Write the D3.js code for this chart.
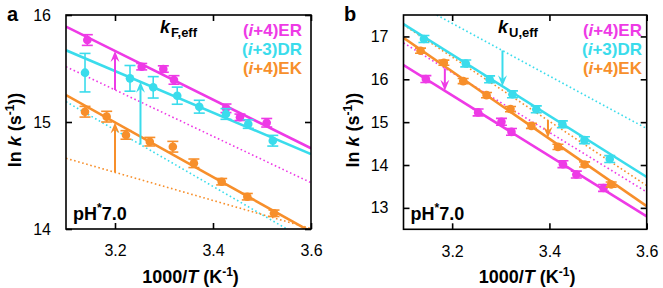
<!DOCTYPE html>
<html><head><meta charset="utf-8">
<script src="https://cdn.jsdelivr.net/npm/d3@7"></script>
<style>body{margin:0;background:#fff}svg{display:block}text{font-family:"Liberation Sans",Arial,Helvetica,sans-serif}</style>
</head><body><svg id="c" width="663" height="288"></svg>
<script>
// ---------- data ----------
const seriesNames = ["ER","DR","EK"];
const seriesColors = ["#ee3ae6","#3adcec","#f78f2b"];
const legendPre = ["(","(","("];
const legendMid = ["i","i","i"];
const legendPost = ["+4)ER","+3)DR","+4)EK"];
const xTicks = [3.2, 3.4, 3.6];
const xTickLabels = ["3.2","3.4","3.6"];
const aYTicks = [14, 15, 16];
const bYTicks = [13, 14, 15, 16, 17];
const fitX = [3.1, 3.6];

// panel a : kF,eff
const aER_x = [3.1435,3.2545,3.2986,3.3204,3.4265,3.455,3.5096];
const aER_y = [15.766,15.517,15.495,15.393,15.128,15.044,14.993];
const aER_e = [0.05,0.03,0.03,0.04,0.04,0.03,0.04];
const aDR_x = [3.1388,3.2306,3.278,3.327,3.372,3.4265,3.472,3.522];
const aDR_y = [15.461,15.408,15.324,15.246,15.143,15.075,14.981,14.825];
const aDR_e = [0.18,0.12,0.10,0.08,0.06,0.05,0.04,0.05];
const aEK_x = [3.1388,3.183,3.2224,3.271,3.318,3.361,3.4177,3.47,3.5245];
const aEK_y = [15.096,15.05,14.879,14.816,14.769,14.614,14.442,14.302,14.147];
const aEK_e = [0.05,0.05,0.04,0.04,0.05,0.04,0.03,0.03,0.03];
const aSolidER = [15.891,14.754];
const aSolidDR = [15.67,14.70];
const aSolidEK = [15.252,13.974];
const aDotER = [15.517,14.433];
const aDotDR = [15.19,13.87];
const aDotEK = [14.661,14.004];
const aArrowX = [3.2, 3.252, 3.2];

// panel b : kU,eff
const bER_x = [3.146,3.2534,3.3014,3.322,3.4278,3.4553,3.5113];
const bER_y = [16.005,15.227,15.007,14.773,14.019,13.778,13.465];
const bER_e = [0.08,0.08,0.08,0.08,0.08,0.08,0.08];
const bDR_x = [3.142,3.228,3.277,3.324,3.373,3.4266,3.472,3.524];
const bDR_y = [16.94,16.37,16.00,15.65,15.30,14.95,14.58,14.14];
const bDR_e = [0.08,0.08,0.08,0.08,0.08,0.08,0.08,0.08];
const bEK_x = [3.135,3.183,3.2227,3.2707,3.32,3.363,3.4175,3.4723,3.527];
const bEK_y = [16.666,16.386,15.958,15.631,15.304,14.914,14.423,14.012,13.544];
const bEK_e = [0.06,0.06,0.06,0.06,0.06,0.06,0.06,0.06,0.06];
const bSolidER = [16.33,12.80];
const bSolidDR = [17.29,13.72];
const bSolidEK = [16.97,13.04];
const bDotER = [16.85,13.37];
const bDotDR = [17.92,14.85];
const bDotEK = [17.27,13.52];
const bArrowX = [3.185, 3.3035, 3.397];

// ---------- drawing ----------
const svg = d3.select("#c");
const FONT = '"Liberation Sans",Arial,Helvetica,sans-serif';

function zipPts(xs, ys, es){ return xs.map((x,i)=>({x, y: ys[i], e: es[i]})); }

function panel(cfg){
  const g = svg.append("g");
  const x = d3.scaleLinear().domain([3.1,3.6]).range([cfg.left, cfg.right]);
  const y = d3.scaleLinear().domain(cfg.yDomain).range([cfg.bottom, cfg.top]);
  const clipId = "clip" + cfg.id;
  svg.append("defs").append("clipPath").attr("id", clipId)
    .append("rect").attr("x", cfg.left).attr("y", cfg.top)
    .attr("width", cfg.right-cfg.left).attr("height", cfg.bottom-cfg.top);
  const pg = g.append("g").attr("clip-path", `url(#${clipId})`);

  const lerp = (arr, xv) => arr[0] + (arr[1]-arr[0])*(xv-fitX[0])/(fitX[1]-fitX[0]);

  // dotted lines
  cfg.dots.forEach((d,i)=>{
    pg.append("line").attr("x1", x(fitX[0])).attr("x2", x(fitX[1]))
      .attr("y1", y(d[0])).attr("y2", y(d[1]))
      .attr("stroke", seriesColors[i]).attr("stroke-width", 1.6)
      .attr("stroke-dasharray", "1.6,2.6");
  });
  // solid lines
  cfg.solids.forEach((d,i)=>{
    pg.append("line").attr("x1", x(fitX[0])).attr("x2", x(fitX[1]))
      .attr("y1", y(d[0])).attr("y2", y(d[1]))
      .attr("stroke", seriesColors[i]).attr("stroke-width", 2.6);
  });
  // arrows
  cfg.arrows.forEach((ax,i)=>{
    const px = x(ax);
    const y0 = y(lerp(cfg.dots[i], ax));
    const y1 = y(lerp(cfg.solids[i], ax));
    const dir = y1 < y0 ? -1 : 1; // -1 up
    const len = 11, hw = 4.5, notch = 7;
    pg.append("line").attr("x1", px).attr("x2", px)
      .attr("y1", y0).attr("y2", y1 - dir*notch)
      .attr("stroke", seriesColors[i]).attr("stroke-width", 2);
    pg.append("path")
      .attr("d", `M${px},${y1} L${px-hw},${y1-dir*len} L${px},${y1-dir*notch} L${px+hw},${y1-dir*len} Z`)
      .attr("fill", seriesColors[i]);
  });
  // points + error bars
  cfg.points.forEach((pts,i)=>{
    const c = seriesColors[i];
    const sg = pg.append("g");
    pts.forEach(p=>{
      const px = x(p.x), py = y(p.y), t = y(p.y+p.e), b = y(p.y-p.e);
      sg.append("line").attr("x1",px).attr("x2",px).attr("y1",t).attr("y2",b).attr("stroke",c).attr("stroke-width",1.6);
      sg.append("line").attr("x1",px-5.5).attr("x2",px+5.5).attr("y1",t).attr("y2",t).attr("stroke",c).attr("stroke-width",1.6);
      sg.append("line").attr("x1",px-5.5).attr("x2",px+5.5).attr("y1",b).attr("y2",b).attr("stroke",c).attr("stroke-width",1.6);
      sg.append("circle").attr("cx",px).attr("cy",py).attr("r",4.3).attr("fill",c);
    });
  });

  // frame
  g.append("rect").attr("x", cfg.left).attr("y", cfg.top)
    .attr("width", cfg.right-cfg.left).attr("height", cfg.bottom-cfg.top)
    .attr("fill","none").attr("stroke","#000").attr("stroke-width",1.6);

  // axes (ticks inside, mirrored)
  const TL = 6;
  const xb = d3.axisBottom(x).tickValues(xTicks).tickFormat((d,i)=>xTickLabels[i]).tickSizeInner(-TL).tickSizeOuter(0).tickPadding(16);
  const xt = d3.axisTop(x).tickValues(xTicks).tickFormat("").tickSizeInner(-TL).tickSizeOuter(0);
  const yl = d3.axisLeft(y).tickValues(cfg.yTicks).tickFormat(d3.format("d")).tickSizeInner(-TL).tickSizeOuter(0).tickPadding(15);
  const yr = d3.axisRight(y).tickValues(cfg.yTicks).tickFormat("").tickSizeInner(-TL).tickSizeOuter(0);
  const styleAxis = s => { s.select(".domain").remove(); s.selectAll("line").attr("stroke","#000").attr("stroke-width",1.6);
    s.selectAll("text").attr("font-family",FONT).attr("font-size",16).attr("fill","#000"); };
  g.append("g").attr("transform",`translate(0,${cfg.bottom})`).call(xb).call(styleAxis);
  g.append("g").attr("transform",`translate(0,${cfg.top})`).call(xt).call(styleAxis);
  g.append("g").attr("transform",`translate(${cfg.left},0)`).call(yl).call(styleAxis);
  g.append("g").attr("transform",`translate(${cfg.right},0)`).call(yr).call(styleAxis);

  // axis titles
  const xt1 = g.append("text").attr("x", (cfg.left+cfg.right)/2 + 2).attr("y", 283)
    .attr("text-anchor","middle").attr("font-size",18).attr("font-weight","bold");
  xt1.append("tspan").text("1000/");
  xt1.append("tspan").attr("font-style","italic").text("T");
  xt1.append("tspan").text(" (K");
  xt1.append("tspan").attr("font-size",12).attr("dy",-7).text("-1");
  xt1.append("tspan").attr("dy",7).text(")");

  const yt = g.append("text").attr("transform",`translate(${cfg.yLabelX},${(cfg.top+cfg.bottom)/2 + 8}) rotate(-90)`)
    .attr("text-anchor","middle").attr("font-size",18).attr("font-weight","bold");
  yt.append("tspan").text("ln ");
  yt.append("tspan").attr("font-style","italic").text("k");
  yt.append("tspan").text(" (s");
  yt.append("tspan").attr("font-size",12).attr("dy",-7).text("-1");
  yt.append("tspan").attr("dy",7).text("))");

  // panel letter
  g.append("text").attr("x", cfg.letterX).attr("y", 21).attr("font-size",20).attr("font-weight","bold").text(cfg.letter);

  // k label
  const kl = g.append("text").attr("x", cfg.kX).attr("y", 33).attr("font-weight","bold").attr("font-size",18);
  kl.append("tspan").attr("font-style","italic").text("k");
  kl.append("tspan").attr("font-size",13).attr("dy",4).attr("dx",1).text(cfg.kSub);

  // legend
  seriesNames.forEach((s,i)=>{
    const t = g.append("text").attr("x", cfg.legendRight).attr("y", 36 + i*19)
      .attr("text-anchor","end").attr("font-size",17).attr("font-weight","bold").attr("fill", seriesColors[i]);
    t.append("tspan").text(legendPre[i]);
    t.append("tspan").attr("font-style","italic").text(legendMid[i]);
    t.append("tspan").text(legendPost[i]);
  });

  // pH label
  const ph = g.append("text").attr("x", cfg.left + 7).attr("y", 220).attr("font-size",18).attr("font-weight","bold");
  ph.append("tspan").text("pH");
  ph.append("tspan").attr("font-size",12).attr("dy",-8).text("*");
  ph.append("tspan").attr("dy",8).text("7.0");
}

panel({id:"a", left:66, right:311, top:15, bottom:229, yDomain:[14,16], yTicks:aYTicks,
  dots:[aDotER,aDotDR,aDotEK], solids:[aSolidER,aSolidDR,aSolidEK], arrows:aArrowX,
  points:[zipPts(aER_x,aER_y,aER_e), zipPts(aDR_x,aDR_y,aDR_e), zipPts(aEK_x,aEK_y,aEK_e)],
  yLabelX:21, letter:"a", letterX:7, kX:160, kSub:"F,eff", legendRight:302});

panel({id:"b", left:403.5, right:646.7, top:15, bottom:229.3, yDomain:[12.5,17.5], yTicks:bYTicks,
  dots:[bDotER,bDotDR,bDotEK], solids:[bSolidER,bSolidDR,bSolidEK], arrows:bArrowX,
  points:[zipPts(bER_x,bER_y,bER_e), zipPts(bDR_x,bDR_y,bDR_e), zipPts(bEK_x,bEK_y,bEK_e)],
  yLabelX:359, letter:"b", letterX:344, kX:498, kSub:"U,eff", legendRight:642});
</script></body></html>
